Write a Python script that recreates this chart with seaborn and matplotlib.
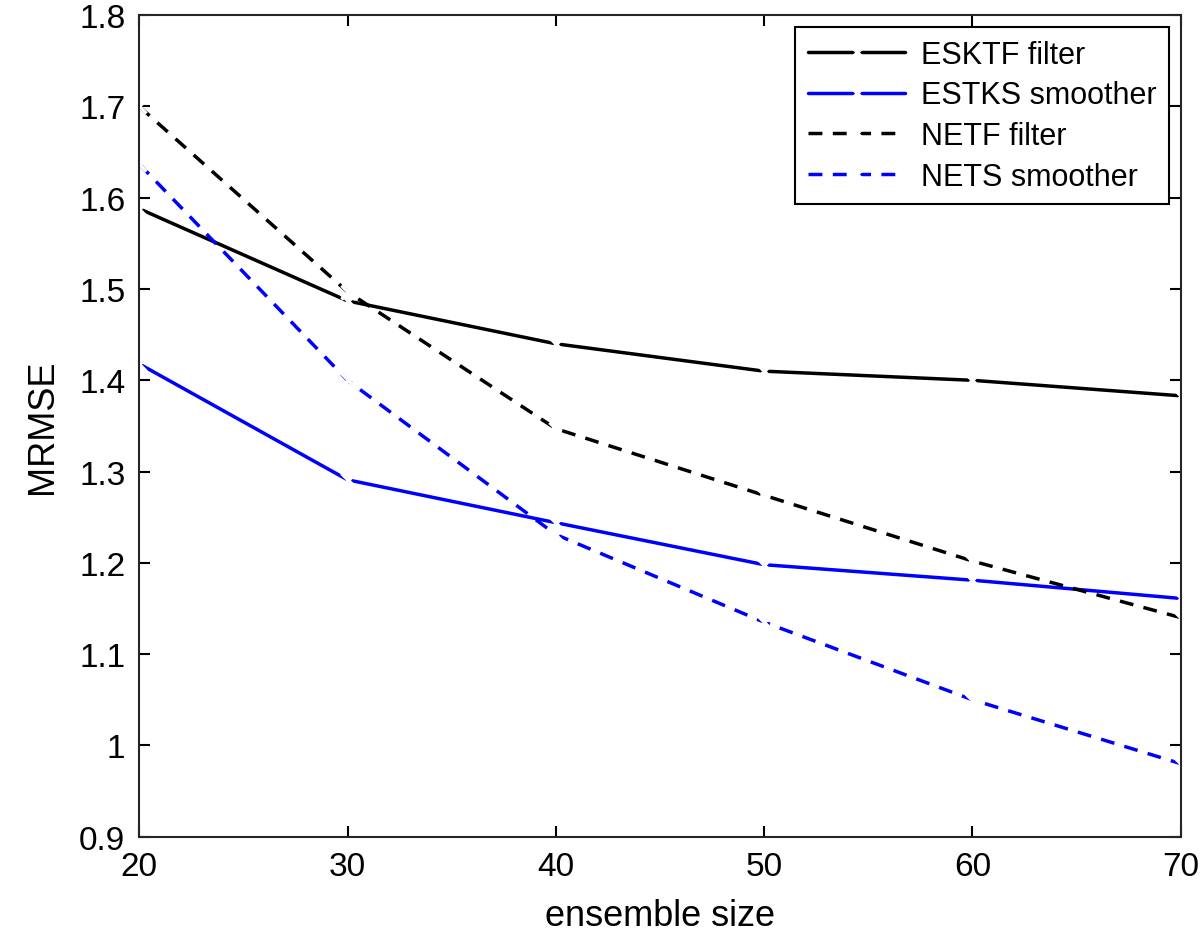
import numpy as np
import pandas as pd
import seaborn as sns
import matplotlib.pyplot as plt

sizes = [20, 30, 40, 50, 60, 70]
esktf = [1.588, 1.487, 1.440, 1.410, 1.400, 1.383]
estks = [1.418, 1.291, 1.244, 1.198, 1.181, 1.161]
netf = [1.700, 1.497, 1.347, 1.274, 1.202, 1.140]
nets = [1.637, 1.400, 1.231, 1.135, 1.050, 0.980]
names = ["ESKTF filter", "ESTKS smoother", "NETF filter", "NETS smoother"]

df = pd.DataFrame({"size": sizes * 4,
                   "val": esktf + estks + netf + nets,
                   "name": np.repeat(names, len(sizes))})

sns.set_style("ticks")
plt.rcParams['font.family'] = ['Liberation Sans', 'DejaVu Sans']
plt.rcParams['text.color'] = 'black'
plt.rcParams['axes.labelcolor'] = 'black'
plt.rcParams['xtick.color'] = 'black'
plt.rcParams['ytick.color'] = 'black'
fig, ax = plt.subplots(figsize=(12, 9.53), dpi=100)
sns.lineplot(data=df, x="size", y="val", hue="name", style="name",
             palette=["black", "blue", "black", "blue"],
             dashes=[(None, None), (None, None), (4, 3), (4, 3)],
             markers=["x"] * 4, markersize=10, markeredgewidth=2.5,
             linewidth=2.5, ax=ax)
ax.set_xlim(20, 70)
ax.set_ylim(0.9, 1.8)
ax.set_yticks(np.arange(0.9, 1.81, 0.1))
ax.set_yticklabels(["0.9", "1", "1.1", "1.2", "1.3", "1.4", "1.5", "1.6", "1.7", "1.8"])
ax.tick_params(labelsize=24, direction="in", length=8, width=1.5, top=True, right=True, pad=10)
for s in ax.spines.values():
    s.set_visible(True)
    s.set_linewidth(1.5)
ax.set_xlabel("ensemble size", fontsize=26, labelpad=12)
ax.set_ylabel("MRMSE", fontsize=26, labelpad=14)
leg = ax.legend(title=None, fontsize=22, loc="upper right", fancybox=False,
                edgecolor="black", framealpha=1, handlelength=3.2,
                borderaxespad=0.4, labelspacing=0.35, handletextpad=0.5)
leg.get_frame().set_linewidth(1.5)
plt.subplots_adjust(left=0.116, right=0.984, top=0.983, bottom=0.121)
plt.savefig("out.png")
